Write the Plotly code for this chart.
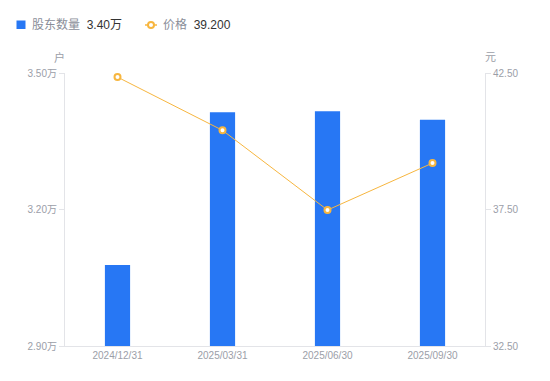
import plotly.graph_objects as go

dates = ["2024/12/31", "2025/03/31", "2025/06/30", "2025/09/30"]
holders = [3.078, 3.414, 3.416, 3.397]  # 万户
price = [42.35, 40.40, 37.48, 39.20]   # 元

left_ticks = [2.90, 3.20, 3.50]
left_labels = ["2.90万", "3.20万", "3.50万"]
right_ticks = [32.5, 37.5, 42.5]
right_labels = ["32.50", "37.50", "42.50"]

BLUE = "#2777f4"
ORANGE = "#f7b63f"
GRAY = "#9b9ea8"
AXIS = "#e3e4e8"
FONT = "Liberation Sans, Noto Sans CJK SC, sans-serif"

fig = go.Figure()
fig.add_trace(go.Bar(x=dates, y=holders, width=0.24, marker=dict(color=BLUE, line=dict(width=0)),
                     name="股东数量", yaxis="y"))
fig.add_trace(go.Scatter(x=dates, y=price, mode="lines+markers", yaxis="y2", name="价格",
                         line=dict(color=ORANGE, width=1),
                         marker=dict(symbol="circle", size=6, color="white",
                                     line=dict(color=ORANGE, width=2))))

W, H = 550, 381
L, R, T, B = 65, 65, 73, 35
pw, ph = W - L - R, H - T - B
def px(x):
    return (x - L) / pw
def py(y):
    return (H - B - y) / ph

fig.update_layout(
    width=W, height=H, margin=dict(l=L, r=R, t=T, b=B),
    paper_bgcolor="white", plot_bgcolor="white",
    showlegend=False,
    font=dict(family=FONT, size=10, color=GRAY),
    xaxis=dict(type="category", showgrid=False, showline=True, linecolor=AXIS, linewidth=1,
               ticks="", tickfont=dict(size=10, color=GRAY), zeroline=False),
    yaxis=dict(range=[2.90, 3.50], tickvals=left_ticks, ticktext=left_labels, showgrid=False,
               showline=True, linecolor=AXIS, linewidth=1, ticks="outside", ticklen=5,
               tickcolor=AXIS, tickfont=dict(size=10, color=GRAY), zeroline=False),
    yaxis2=dict(range=[32.5, 42.5], tickvals=right_ticks, ticktext=right_labels, overlaying="y",
                side="right", showgrid=False, showline=True, linecolor=AXIS, linewidth=1,
                ticks="outside", ticklen=5, tickcolor=AXIS,
                tickfont=dict(size=10, color=GRAY), zeroline=False),
)

# axis unit titles
fig.add_annotation(text="户", x=px(59), y=py(57), xref="paper", yref="paper", showarrow=False,
                   font=dict(size=11, color=GRAY), xanchor="center", yanchor="middle")
fig.add_annotation(text="元", x=px(490), y=py(57), xref="paper", yref="paper", showarrow=False,
                   font=dict(size=11, color=GRAY), xanchor="center", yanchor="middle")

# custom legend
fig.add_shape(type="rect", xref="paper", yref="paper", x0=px(16.5), x1=px(25.5), y0=py(29), y1=py(20.5),
              fillcolor=BLUE, line=dict(width=0))
fig.add_annotation(text="股东数量&nbsp;&nbsp;<span style='color:#333333'>3.40万</span>",
                   x=px(30), y=py(25), xref="paper", yref="paper", showarrow=False,
                   xanchor="left", yanchor="middle", font=dict(size=12, color="#8a8e99"))
fig.add_shape(type="line", xref="paper", yref="paper", x0=px(145), x1=px(157), y0=py(25), y1=py(25),
              line=dict(color=ORANGE, width=1.5))
fig.add_shape(type="circle", xref="paper", yref="paper", x0=px(148), x1=px(154), y0=py(28), y1=py(22),
              fillcolor="white", line=dict(color=ORANGE, width=2))
fig.add_annotation(text="价格&nbsp;&nbsp;<span style='color:#333333'>39.200</span>",
                   x=px(160.5), y=py(25), xref="paper", yref="paper", showarrow=False,
                   xanchor="left", yanchor="middle", font=dict(size=12, color="#8a8e99"))

fig.write_html("out.html", config={"displayModeBar": False},
               post_script="document.body.style.margin='0';document.body.style.overflow='hidden';")
